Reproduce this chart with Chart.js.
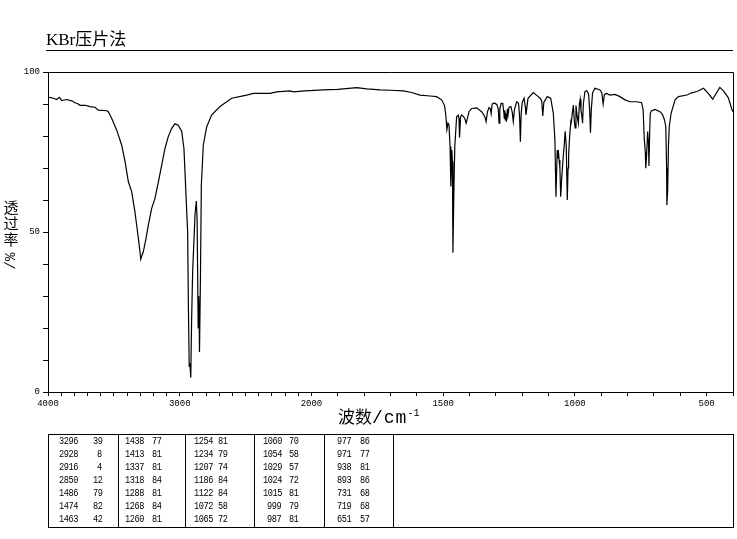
<!DOCTYPE html>
<html>
<head>
<meta charset="utf-8">
<script src="https://cdn.jsdelivr.net/npm/chart.js@4.4.1/dist/chart.umd.min.js"></script>
<style>
body { margin: 0; background: #fff; width: 737px; height: 539px; position: relative; overflow: hidden; font-family: "Liberation Serif", "Noto Sans CJK SC", serif; color: #000; }
#c { position: absolute; left: 0; top: 0; }
#title { position: absolute; left: 46px; top: 31px; font-size: 17px; line-height: 18px; }
#rule { position: absolute; left: 46px; top: 50px; width: 687px; border-top: 1px solid #000; }
#ylab { position: absolute; left: 3px; top: 199px; width: 16px; font-size: 15px; line-height: 16px; text-align: center; font-family: "Noto Sans CJK SC", sans-serif; }
#xlab { position: absolute; left: 338px; top: 404px; font-size: 17px; line-height: 20px; font-family: "Noto Sans CJK SC", sans-serif; white-space: nowrap; }
#xlab .lat { font-family: "Liberation Mono", monospace; font-size: 18px; letter-spacing: 1px; }
#xlab sup { font-family: "Liberation Mono", monospace; font-size: 10px; }
#peaks { position: absolute; left: 48px; top: 434px; width: 684px; height: 92px; border: 1px solid #000; font-family: "Liberation Mono", monospace; font-size: 10.5px; letter-spacing: -0.6px; }
#peaks div { position: absolute; line-height: 13px; }
#peaks div.num { transform: scaleX(0.82); transform-origin: right center; }
</style>
</head>
<body>
<canvas id="c" width="737" height="539"></canvas>
<div id="title">KBr压片法</div>
<div id="rule"></div>
<div id="ylab"><div>透</div><div>过</div><div>率</div></div>
<div id="xlab">波数<span class="lat">/cm</span><sup>-1</sup></div>
<div id="peaks"></div>
<script>
// spectrum (wavenumber cm-1, transmittance %)
const wavenumbers = [
  4000, 3975, 3960, 3934, 3914, 3896, 3858, 3820, 3795, 3770, 3757, 3719, 3681, 3643, 3618, 3554, 3542,
  3516, 3479, 3441, 3415, 3390, 3365, 3340, 3327, 3314, 3302, 3296, 3288, 3276, 3256, 3238, 3213, 3188,
  3162, 3137, 3112, 3087, 3061, 3036, 3011, 2985, 2968, 2958, 2947, 2940, 2934, 2928, 2923, 2916, 2910,
  2902, 2884, 2874, 2868, 2860, 2856, 2853, 2850, 2843, 2836, 2821, 2795, 2757, 2694, 2606, 2492, 2441,
  2315, 2264, 2163, 2138, 2050, 1955, 1900, 1828, 1790, 1740, 1700, 1651, 1620, 1588, 1550, 1525, 1506,
  1495, 1490, 1486, 1482, 1478, 1474, 1471, 1467, 1465, 1463, 1460, 1456, 1449, 1443, 1440, 1438, 1434,
  1430, 1422, 1416, 1413, 1408, 1402, 1392, 1373, 1354, 1345, 1341, 1337, 1332, 1326, 1321, 1318, 1314,
  1305, 1296, 1291, 1288, 1285, 1280, 1274, 1270, 1268, 1266, 1264, 1262, 1260, 1256, 1254, 1250, 1243,
  1238, 1234, 1229, 1221, 1214, 1210, 1207, 1204, 1200, 1193, 1188, 1186, 1183, 1178, 1158, 1139, 1132,
  1126, 1122, 1118, 1105, 1092, 1082, 1076, 1072, 1069, 1067, 1065, 1062, 1060, 1057, 1054, 1050, 1048,
  1044, 1041, 1037, 1033, 1029, 1026, 1024, 1020, 1016, 1015, 1010, 1006, 1002, 999, 996, 991, 987,
  983, 980, 977, 974, 971, 968, 962, 955, 948, 944, 941, 938, 933, 924, 912, 905, 898, 893, 888, 880,
  867, 848, 829, 810, 791, 765, 747, 741, 737, 733, 731, 728, 724, 721, 719, 716, 714, 710, 696, 677,
  668, 660, 655, 652, 651, 648, 645, 642, 635, 620, 607, 575, 557, 537, 512, 494, 477, 464, 450, 437,
  418, 405, 400
];
const transmittance = [
  92.1, 92.0, 91.8, 91.4, 92.1, 91.1, 91.4, 91.0, 90.4, 90.0, 89.6, 89.6, 89.2, 89.0, 88.1, 87.9, 87.6,
  85.5, 81.9, 77.2, 72.0, 65.7, 62.6, 56.3, 52.2, 48.0, 43.9, 41.5, 42.5, 43.9, 48.0, 52.2, 57.4, 60.5,
  65.7, 70.9, 76.1, 79.8, 82.4, 83.8, 83.4, 81.4, 76.1, 66.8, 56.3, 50.1, 26.0, 8.0, 9.0, 4.5, 22.0,
  37.6, 55.3, 59.7, 54.0, 20.0, 30.0, 25.0, 12.5, 35.0, 64.7, 77.2, 82.9, 86.6, 89.2, 91.8, 92.8, 93.3,
  93.3, 93.8, 94.1, 93.8, 94.1, 94.4, 94.6, 95.1, 94.7, 94.4, 94.3, 94.1, 93.6, 92.8, 92.5, 92.3, 91.3,
  89.5, 86.5, 82.0, 84.0, 83.5, 76.7, 64.2, 75.6, 72.0, 43.5, 60.0, 76.7, 86.0, 86.5, 85.5, 79.5, 86.0,
  86.6, 86.0, 85.0, 84.0, 85.5, 87.6, 88.6, 88.8, 87.6, 86.5, 85.8, 84.5, 87.5, 88.9, 88.5, 87.0, 90.0,
  90.3, 89.8, 88.5, 84.0, 88.5, 90.2, 90.2, 87.5, 85.5, 88.0, 85.0, 87.0, 84.5, 88.5, 86.5, 89.0, 89.2,
  87.5, 84.5, 88.5, 90.7, 90.2, 86.0, 78.2, 87.0, 90.5, 91.8, 89.0, 86.6, 88.5, 91.8, 93.6, 92.3, 91.8,
  91.0, 86.3, 90.5, 92.3, 91.8, 87.1, 78.8, 61.0, 70.0, 75.6, 73.0, 74.5, 72.5, 70.0, 61.0, 67.0, 69.4,
  74.0, 76.7, 81.5, 77.0, 60.0, 70.0, 74.0, 80.0, 84.0, 83.5, 87.0, 89.7, 84.5, 82.5, 89.5, 86.0, 84.0,
  90.0, 91.5, 88.0, 86.5, 84.0, 90.0, 93.9, 94.2, 93.0, 88.0, 81.0, 88.0, 93.5, 94.9, 94.6, 94.4, 93.5, 90.0, 93.0, 93.3,
  92.8, 93.0, 92.3, 91.3, 90.7, 90.7, 90.4, 88.1, 79.3, 75.0, 69.9, 74.0, 81.4, 78.0, 70.6, 82.0, 87.1, 87.8, 88.3, 87.6,
  86.8, 85.0, 82.9, 70.0, 58.4, 63.0, 77.0, 82.9, 87.1, 91.3, 92.3, 92.8, 93.5, 93.9, 94.9, 93.3, 91.5, 93.3, 95.2, 94.2,
  92.0, 88.5, 87.6
];

// peak table (column by column)
const peakWn = [3296, 2928, 2916, 2850, 1486, 1474, 1463,
                1438, 1413, 1337, 1318, 1288, 1268, 1260,
                1254, 1234, 1207, 1186, 1122, 1072, 1065,
                1060, 1054, 1029, 1024, 1015, 999, 987,
                977, 971, 938, 893, 731, 719, 651];
const peakT = [39, 8, 4, 12, 79, 82, 42,
               77, 81, 81, 84, 81, 84, 81,
               81, 79, 74, 84, 84, 58, 72,
               70, 58, 57, 72, 81, 79, 81,
               86, 77, 81, 86, 68, 68, 57];

const xLabels = [4000, 3000, 2000, 1500, 1000, 500];
const yLabels = [0, 50, 100];
const xTicks = [];
for (let w = 4000; w >= 400; w -= 100) xTicks.push(w);

// axis is stretched 2x below 2000 cm-1
function axisPos(w) { return w >= 2000 ? 4000 - w : 2000 + (2000 - w) * 2; }
function axisWn(p) { return p <= 2000 ? 4000 - p : 2000 - (p - 2000) / 2; }

const tickFont = { family: 'Liberation Mono', size: 9 };

new Chart(document.getElementById('c'), {
  type: 'line',
  data: {
    datasets: [{
      data: wavenumbers.map((w, i) => ({ x: axisPos(w), y: transmittance[i] })),
      borderColor: '#000',
      borderWidth: 1.2,
      pointRadius: 0,
      tension: 0,
      fill: false
    }]
  },
  options: {
    responsive: false,
    animation: false,
    layout: { padding: { left: 0, top: 72, right: 4, bottom: 127 } },
    plugins: { legend: { display: false }, tooltip: { enabled: false } },
    scales: {
      x: {
        type: 'linear',
        min: 0,
        max: axisPos(400),
        afterBuildTicks: s => { s.ticks = xTicks.map(w => ({ value: axisPos(w) })); },
        afterFit: s => { s.height = 20; },
        ticks: {
          autoSkip: false, maxRotation: 0, color: '#000', font: tickFont, padding: 2,
          callback: v => { const w = Math.round(axisWn(v)); return xLabels.includes(w) ? String(w) : ''; }
        },
        grid: { drawOnChartArea: false, color: '#000', tickLength: 4 },
        border: { color: '#000' }
      },
      y: {
        min: 0,
        max: 100,
        afterFit: s => { s.width = 48; },
        ticks: {
          stepSize: 10, color: '#000', font: tickFont, padding: 3,
          callback: v => yLabels.includes(v) ? String(v) : ''
        },
        grid: { drawOnChartArea: false, color: '#000', tickLength: 5 },
        border: { color: '#000' }
      }
    }
  },
  plugins: [{
    id: 'frame',
    afterDraw(c) {
      const a = c.chartArea, ctx = c.ctx;
      ctx.save();
      ctx.strokeStyle = '#000';
      ctx.lineWidth = 1;
      ctx.beginPath();
      ctx.moveTo(a.left, a.top + 0.5);
      ctx.lineTo(a.right + 0.5, a.top + 0.5);
      ctx.lineTo(a.right + 0.5, a.bottom);
      ctx.stroke();
      // the "/%" part of the y title runs bottom-to-top
      ctx.translate(11, 261);
      ctx.rotate(-Math.PI / 2);
      ctx.fillStyle = '#000';
      ctx.font = '14px "Liberation Mono"';
      ctx.textAlign = 'center';
      ctx.textBaseline = 'middle';
      ctx.fillText('/%', 0, 0);
      ctx.restore();
    }
  }]
});

// peak table
const box = document.getElementById('peaks');
const colLeft = [0, 69, 136, 205, 275];
const firstRight = [29, 26, 28, 27.5, 27.5];
const secondRight = [53, 43, 42, 44, 45];
colLeft.concat([344]).forEach((x, i) => {
  if (i === 0) return;
  const d = document.createElement('div');
  d.style.cssText = `left:${x}px;top:0;height:92px;border-left:1px solid #000`;
  box.appendChild(d);
});
peakWn.forEach((w, i) => {
  const col = Math.floor(i / 7), row = i % 7;
  [[w, firstRight[col]], [peakT[i], secondRight[col]]].forEach(([txt, r]) => {
    const d = document.createElement('div');
    d.className = 'num';
    d.textContent = txt;
    d.style.cssText = `right:${684 - colLeft[col] - r}px;top:${13 * row}px;text-align:right`;
    box.appendChild(d);
  });
});
</script>
</body>
</html>
